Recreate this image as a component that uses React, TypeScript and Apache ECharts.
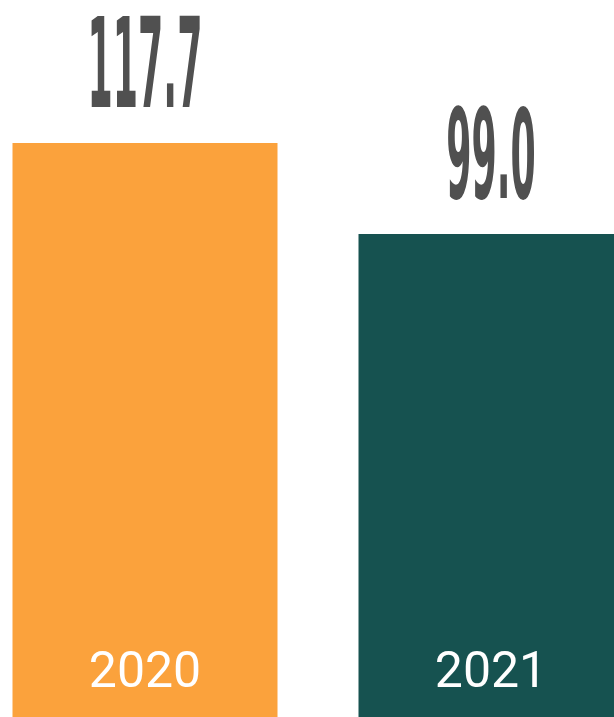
import React, { useEffect, useRef } from "react";
import * as echarts from "echarts";

const categories = ["2020", "2021"];
const values = [117.7, 99.0];
const valueLabels = ["117.7", "99.0"];
const barColors = ["#FBA23C", "#165250"];

export default function App() {
  const ref = useRef<HTMLDivElement>(null);
  useEffect(() => {
    if (!ref.current) return;
    const chart = echarts.init(ref.current, null, { renderer: "svg" });
    chart.setOption({
      animation: false,
      backgroundColor: "#ffffff",
      grid: { left: 0, right: 0, top: 0, bottom: 0, containLabel: false },
      xAxis: {
        type: "category",
        data: categories,
        axisLine: { show: false },
        axisTick: { show: false },
        axisLabel: {
          inside: true,
          interval: 0,
          color: "#ffffff",
          fontSize: 50,
          fontFamily: "Roboto",
          margin: 22,
        },
        z: 10,
      },
      yAxis: {
        type: "value",
        min: 0,
        max: 147,
        show: false,
        splitLine: { show: false },
      },
      series: [
        {
          type: "bar",
          barWidth: 265,
          data: values.map((v, i) => ({ value: v, itemStyle: { color: barColors[i] } })),
        },
        {
          type: "custom",
          data: values.map((v, i) => [i, v]),
          z: 5,
          renderItem: (params: any, api: any) => {
            const i = api.value(0);
            const pt = api.coord([i, api.value(1)]);
            return {
              type: "text",
              x: pt[0],
              y: pt[1] - 79,
              scaleX: 0.363,
              scaleY: 1.24,
              style: {
                text: valueLabels[params.dataIndex],
                fontFamily: "DejaVu Sans",
                fontWeight: "bold",
                fontSize: 100,
                lineHeight: 80,
                fill: "#505050",
                align: "center",
                verticalAlign: "middle",
              },
            };
          },
        },
      ],
    });
    return () => chart.dispose();
  }, []);
  return (
    <div style={{ position: "fixed", left: 0, top: 0, width: 614, height: 717, overflow: "hidden" }}>
      <div
        ref={ref}
        style={{ position: "absolute", left: -28, top: 0, width: 692, height: 717 }}
      />
    </div>
  );
}
